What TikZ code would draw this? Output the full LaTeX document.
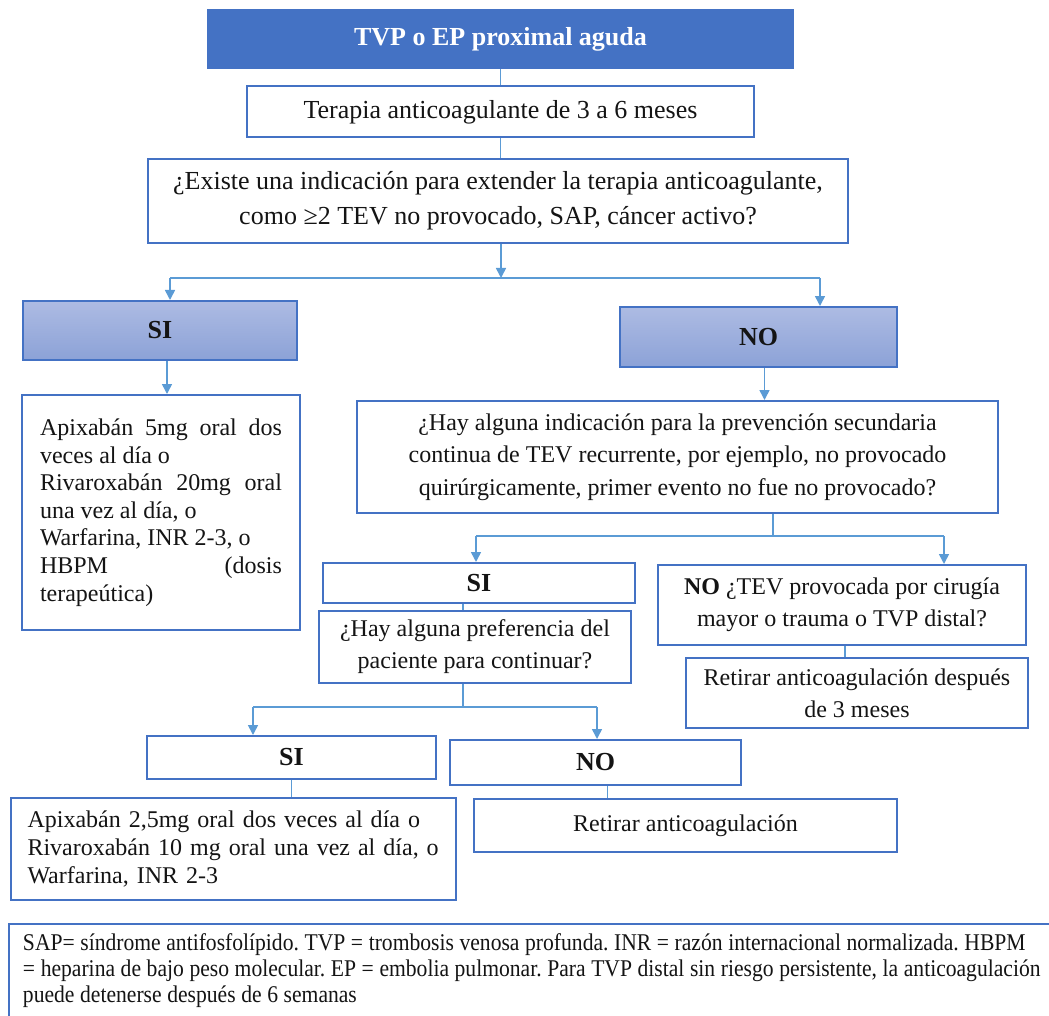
\documentclass[tikz,border=0pt]{standalone}
\usepackage{fontspec}
\setmainfont{Liberation Serif}
\newfontfamily\notefont[FakeStretch=0.9]{Liberation Serif}
\newcommand\notespacing{\frenchspacing\spaceskip=2.8pt plus 1pt\relax}
\usetikzlibrary{arrows.meta,positioning}
\definecolor{frameclr}{HTML}{4472C4}
\definecolor{wireclr}{HTML}{5B9BD5}
\definecolor{choicetop}{HTML}{ADBBE3}
\definecolor{choicebot}{HTML}{8CA2D7}
\definecolor{inkclr}{HTML}{141414}

\tikzset{
  flowbox/.style={draw=frameclr, line width=1pt, fill=white, inner sep=4pt,
    align=center, text=inkclr, font=\fontsize{12}{16}\selectfont},
  headbox/.style={flowbox, fill=frameclr, text=white,
    font=\fontsize{13}{16}\selectfont\bfseries},
  choice/.style={flowbox, top color=choicetop, bottom color=choicebot,
    font=\fontsize{13}{16}\selectfont\bfseries},
  answer/.style={flowbox, font=\fontsize{13}{16}\selectfont\bfseries},
  boxsize/.style 2 args={minimum width=#1*0.5pt, minimum height=#2*0.5pt},
  wire/.style={draw=wireclr, line width=0.8pt},
  feed/.style={wire, -{Triangle[length=5pt, width=5pt]}},
}

\begin{document}
\begin{tikzpicture}[x=0.5pt, y=-0.5pt]
\useasboundingbox (0,0) rectangle (1049,1016);

% --- top of the chart -------------------------------------------------------
\node[headbox, boxsize={585}{58}] (head) at (500.5,39) {TVP o EP proximal aguda};
\node[flowbox, boxsize={507}{51}, font=\fontsize{13}{16}\selectfont] (therapy)
  at (500.5,112) {Terapia anticoagulante de 3 a 6 meses};
\node[flowbox, boxsize={700}{84}, font=\fontsize{13}{17.5}\selectfont] (extend)
  at (498,201) {¿Existe una indicación para extender la terapia anticoagulante,\\
  como ≥2 TEV no provocado, SAP, cáncer activo?};

% --- first answer ---------------------------------------------------------
\node[choice, boxsize={274}{59}] (yesA) at (160,330.5) {SI};
\node[choice, boxsize={277}{60}] (noA) at (758.5,337) {NO};
\node[flowbox, boxsize={278}{235}, align=justify, text width=121pt, inner xsep=9pt,
  font=\fontsize{12}{13.8}\selectfont] (doseA) at (161,512.5)
  {Apixabán 5mg oral dos\linebreak veces al día o\newline
   Rivaroxabán 20mg oral\linebreak una vez al día, o\newline
   Warfarina, INR 2-3, o\newline
   HBPM\hfill(dosis\newline terapeútica)};
\node[flowbox, boxsize={641}{112}, font=\fontsize{12}{16.25}\selectfont] (second)
  at (677.5,457) {¿Hay alguna indicación para la prevención secundaria\\
  continua de TEV recurrente, por ejemplo, no provocado\\
  quirúrgicamente, primer evento no fue no provocado?};

% --- second answer --------------------------------------------------------
\node[answer, boxsize={312}{40}] (yesB) at (479,583) {SI};
\node[flowbox, boxsize={312}{72}] (wish) at (475,647)
  {¿Hay alguna preferencia del\\ paciente para continuar?};
\node[flowbox, boxsize={368}{80}] (noB) at (842,605)
  {\textbf{NO} ¿TEV provocada por cirugía\\ mayor o trauma o TVP distal?};
\node[flowbox, boxsize={342}{70}] (stopLate) at (857,693)
  {Retirar anticoagulación después\\ de 3 meses};

% --- patient preference ---------------------------------------------------
\node[answer, boxsize={289}{43}] (yesC) at (291.5,757.5) {SI};
\node[answer, boxsize={291}{45}] (noC) at (595.5,762.5) {NO};
\node[flowbox, boxsize={445}{102}, align=left, text width=206pt,
  font=\fontsize{12}{14}\selectfont] (doseB) at (233.5,849)
  {Apixabán 2,5mg oral dos veces al día o\\
   Rivaroxabán 10 mg oral una vez al día, o\\
   Warfarina, INR 2-3};
\node[flowbox, boxsize={423}{53}] (stopNow) at (685.5,825.5) {Retirar anticoagulación};

% --- footnote (runs off the page) ------------------------------------------
\node[flowbox, anchor=north west, align=left, text width=540pt, inner xsep=7pt,
  minimum height=47pt, font=\notefont\fontsize{12}{13}\selectfont] (notes) at (8,923)
  {\notespacing SAP= síndrome antifosfolípido. TVP = trombosis venosa profunda. INR = razón internacional normalizada. HBPM\\
   = heparina de bajo peso molecular. EP = embolia pulmonar. Para TVP distal sin riesgo persistente, la anticoagulación\\
   puede detenerse después de 6 semanas};

% --- connectors -----------------------------------------------------------
\coordinate (forkA) at (501,278);
\coordinate (forkAL) at (170,278);
\coordinate (forkAR) at (820,278);
\coordinate (forkB) at (773,536);
\coordinate (forkBL) at (476,536);
\coordinate (forkBR) at (944,536);
\coordinate (forkC) at (463,707);
\coordinate (forkCL) at (253,707);
\coordinate (forkCR) at (597,707);

\draw[wire] (head.south) -- (therapy.north);
\draw[wire] (therapy.south) -- (therapy.south |- extend.north);
\draw[feed] (forkA |- extend.south) -- (forkA);
\draw[wire] (forkAL) -- (forkAR);
\draw[feed] (forkAL) -- (forkAL |- yesA.north);
\draw[feed] (forkAR) -- (forkAR |- noA.north);
\draw[feed] ([xshift=3.5pt]yesA.south) -- ([xshift=3.5pt]yesA.south |- doseA.north);
\draw[feed] ([xshift=3pt]noA.south) -- ([xshift=3pt]noA.south |- second.north);

\draw[wire] (forkB |- second.south) -- (forkB);
\draw[wire] (forkBL) -- (forkBR);
\draw[feed] (forkBL) -- (forkBL |- yesB.north);
\draw[feed] (forkBR) -- (forkBR |- noB.north);
\draw[wire] ([xshift=-8pt]yesB.south) -- ([xshift=-8pt]yesB.south |- wish.north);
\draw[wire] ([xshift=1.5pt]noB.south) -- ([xshift=1.5pt]noB.south |- stopLate.north);

\draw[wire] (forkC |- wish.south) -- (forkC);
\draw[wire] (forkCL) -- (forkCR);
\draw[feed] (forkCL) -- (forkCL |- yesC.north);
\draw[feed] (forkCR) -- (forkCR |- noC.north);
\draw[wire] (yesC.south) -- (yesC.south |- doseB.north);
\draw[wire] ([xshift=6pt]noC.south) -- ([xshift=6pt]noC.south |- stopNow.north);

\end{tikzpicture}
\end{document}
